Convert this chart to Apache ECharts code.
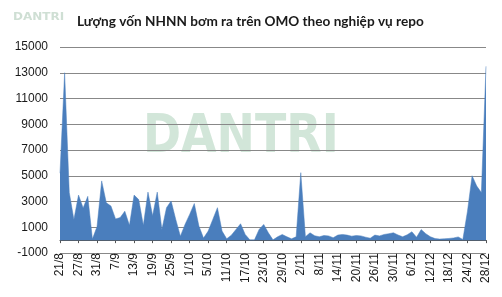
<!DOCTYPE html>
<html>
<head>
<meta charset="utf-8">
<script src="https://cdn.jsdelivr.net/npm/echarts@6/dist/echarts.min.js"></script>
<style>html,body{margin:0;padding:0;background:#fff;}#c{width:502px;height:297px;}</style>
</head>
<body>
<div id="c"></div>
<script>
var titleText = 'Lượng vốn NHNN bơm ra trên OMO theo nghiệp vụ repo';
var categories = ['21/8','22/8','23/8','24/8','27/8','28/8','29/8','30/8','31/8','4/9','5/9','6/9','7/9','10/9','11/9','12/9','13/9','14/9','17/9','18/9','19/9','20/9','21/9','24/9','25/9','26/9','27/9','28/9','1/10','2/10','3/10','4/10','5/10','8/10','9/10','10/10','11/10','12/10','15/10','16/10','17/10','18/10','19/10','22/10','23/10','24/10','25/10','26/10','29/10','30/10','31/10','1/11','2/11','5/11','6/11','7/11','8/11','9/11','12/11','13/11','14/11','15/11','16/11','19/11','20/11','21/11','22/11','23/11','26/11','27/11','28/11','29/11','30/11','3/12','4/12','5/12','6/12','7/12','10/12','11/12','12/12','13/12','14/12','17/12','18/12','19/12','20/12','21/12','24/12','25/12','26/12','27/12','28/12'];
var values = [5200,13000,3700,1600,3500,2500,3400,80,1050,4600,2900,2650,1650,1750,2250,1150,3500,3150,1150,3730,1900,3730,830,2520,3040,1610,310,1220,2000,2840,1090,160,700,1610,2520,700,100,380,830,1270,440,20,20,830,1220,570,20,260,440,260,100,260,5240,260,570,340,260,360,330,190,390,440,390,310,360,330,230,150,390,330,440,500,570,400,260,420,650,220,820,500,260,120,80,100,130,170,250,50,2250,5000,4200,3700,13500];
var yTicks = {min: -1000, max: 15000, interval: 2000};

var chart = echarts.init(document.getElementById('c'), null, {renderer: 'canvas'});
chart.setOption({
  animation: false,
  backgroundColor: '#ffffff',
  title: {
    text: titleText,
    left: 77, top: 15, padding: 0,
    textStyle: {fontFamily: 'Lato', fontWeight: 'bold', fontSize: 13.6, color: '#1a1a1a'}
  },
  graphic: [
    {type: 'text', left: 13, top: 12, z: -10, style: {text: 'DANTRI', fontFamily: 'DejaVu Sans', fontWeight: 'bold', fontSize: 10, fill: '#cfdfd4'}, scaleX: 1.2},
    {type: 'text', left: 143, top: 111, z: -10, silent: true, style: {text: 'DANTRI', fontFamily: 'DejaVu Sans', fontWeight: 'bold', fontSize: 54, fill: '#d2e6d9'}, scaleX: 0.85}
  ],
  grid: {left: 60, right: 16, top: 47, bottom: 44, containLabel: false},
  xAxis: {
    type: 'category',
    data: categories,
    boundaryGap: false,
    axisLine: {lineStyle: {color: '#555555', width: 1}},
    axisTick: {show: true, interval: 3, length: 3, lineStyle: {color: '#555555'}},
    axisLabel: {interval: 3, rotate: 90, margin: 0, fontFamily: 'Liberation Sans', fontSize: 12, color: '#1a1a1a'},
    splitLine: {show: false}
  },
  yAxis: {
    type: 'value',
    min: yTicks.min, max: yTicks.max, interval: yTicks.interval,
    axisLine: {show: false},
    axisTick: {show: false},
    axisLabel: {margin: 12, fontFamily: 'Liberation Sans', fontSize: 12, color: '#1a1a1a', formatter: function (v) { return String(v); }},
    splitLine: {lineStyle: {color: '#888888', width: 1}}
  },
  series: [{
    type: 'line',
    data: values,
    symbol: 'none',
    lineStyle: {width: 0.5, color: '#4a7ebd'},
    areaStyle: {color: '#4a7ebd', opacity: 1},
    z: 3
  }]
});
</script>
</body>
</html>
